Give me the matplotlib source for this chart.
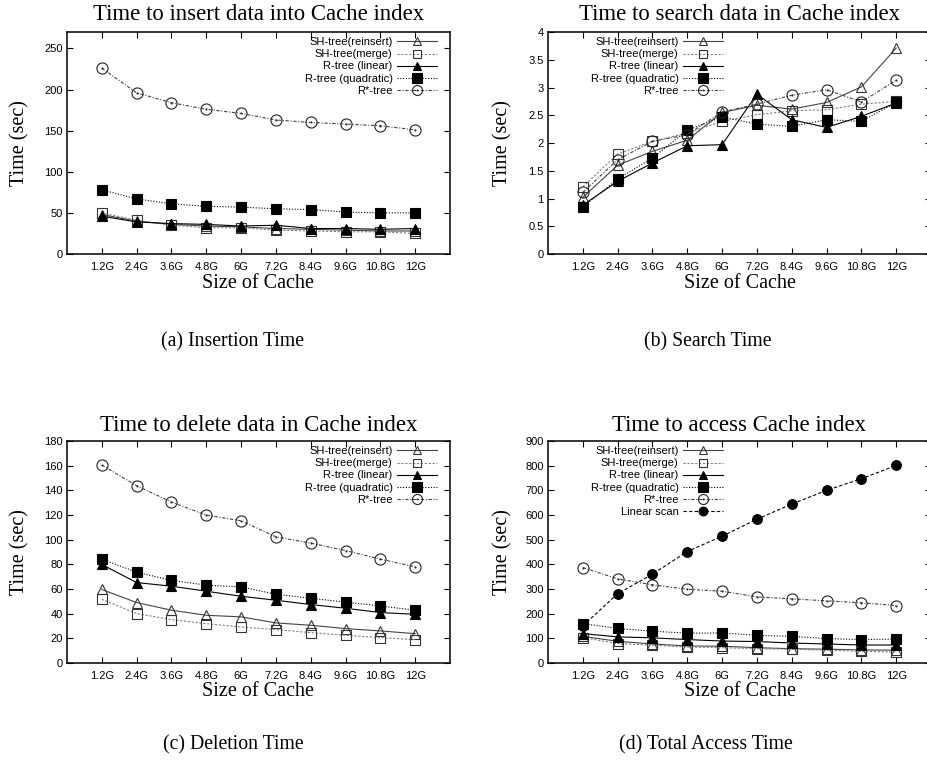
import numpy as np
import matplotlib.pyplot as plt
from matplotlib.path import Path
from matplotlib import ticker

# cache sizes on the x axis
sizes = ["1.2G", "2.4G", "3.6G", "4.8G", "6G", "7.2G", "8.4G", "9.6G", "10.8G", "12G"]

labels = ["SH-tree(reinsert)", "SH-tree(merge)", "R-tree (linear)",
          "R-tree (quadratic)", "R*-tree", "Linear scan"]

# (a) insertion time (sec)
ins_reinsert = [48, 40, 36, 34, 33, 31, 30, 29, 28, 28]
ins_merge = [50, 41, 35, 32, 32, 29, 28, 27, 27, 25]
ins_linear = [46, 39, 37, 36, 34, 35, 31, 31, 30, 31]
ins_quadratic = [78, 67, 61, 58, 57, 55, 54, 51, 50, 50]
ins_rstar = [226, 196, 184, 176, 171, 163, 160, 158, 156, 151]

# (b) search time (sec)
sea_reinsert = [1.02, 1.60, 1.85, 2.05, 2.55, 2.68, 2.61, 2.73, 3.01, 3.71]
sea_merge = [1.21, 1.80, 2.03, 2.18, 2.39, 2.51, 2.58, 2.60, 2.70, 2.75]
sea_linear = [0.88, 1.31, 1.64, 1.95, 1.97, 2.88, 2.42, 2.28, 2.48, 2.72]
sea_quadratic = [0.85, 1.35, 1.73, 2.23, 2.47, 2.34, 2.30, 2.42, 2.39, 2.73]
sea_rstar = [1.11, 1.70, 2.03, 2.15, 2.56, 2.70, 2.86, 2.96, 2.74, 3.13]

# (c) deletion time (sec)
del_reinsert = [59.6, 49.0, 42.8, 38.7, 37.4, 32.5, 30.6, 27.9, 26.0, 23.8]
del_merge = [51.7, 40.1, 35.2, 31.9, 29.2, 27.1, 24.6, 22.5, 20.6, 18.9]
del_linear = [79.9, 65.2, 62.3, 58.2, 54.1, 50.9, 47.4, 44.4, 40.9, 39.5]
del_quadratic = [84.2, 73.6, 67.1, 63.1, 61.7, 55.8, 52.5, 49.3, 46.3, 42.8]
del_rstar = [160.5, 143.7, 130.5, 119.9, 115.3, 102.3, 97.2, 91.2, 84.2, 78.0]

# (d) total access time (sec)
acc_reinsert = [108, 88, 77, 69, 68, 62, 58, 56, 53, 52]
acc_merge = [103, 79, 72, 65, 62, 58, 56, 52, 47, 45]
acc_linear = [119, 106, 102, 95, 89, 87, 81, 77, 73, 73]
acc_quadratic = [160, 140, 129, 121, 122, 112, 108, 99, 95, 97]
acc_rstar = [387, 341, 317, 299, 291, 268, 260, 252, 244, 233]
acc_scan = [150, 281, 360, 452, 514, 583, 644, 700, 747, 801]

W, H = 927, 763
fig = plt.figure(figsize=(W / 100, H / 100), dpi=100)

SERIF = "Liberation Serif"
SANS = "Liberation Sans"

# circle with a centre dot, like gnuplot's postscript points
dot_circle = Path.make_compound_path(Path.unit_circle(),
                                     Path.circle((0, 0), 0.08))

styles = [
    dict(color="#444444", ls="-", marker="^", mfc="none", mec="#333333", ms=6.5),
    dict(color="#808080", ls=(0, (2, 1.5)), marker="s", mfc="none", mec="#333333", ms=7),
    dict(color="black", ls="-", marker="^", mfc="black", mec="black", ms=6.5),
    dict(color="black", ls=(0, (1, 1.5)), marker="s", mfc="black", mec="black", ms=7.5),
    dict(color="#444444", ls=(0, (3, 1.5, 1, 1.5)), marker=dot_circle, mfc="none", mec="#222222", ms=8),
    dict(color="black", ls=(0, (3, 2)), marker="o", mfc="black", mec="black", ms=7),
]


def rect(l, r, t, b):
    return [l / W, 1 - b / H, (r - l) / W, (b - t) / H]


def panel(box, series, ymax, ystep, title, caption, title_y, xlab_y, ylab_x, cap_xy, leg_x):
    ax = fig.add_axes(rect(*box))
    x = np.arange(1, len(sizes) + 1)
    for i, vals in enumerate(series):
        ax.plot(x, vals, lw=0.8, mew=0.8, label=labels[i], **styles[i])
    ax.set_xlim(0, 11)
    ax.set_ylim(0, ymax)
    ax.set_xticks(x)
    ax.set_xticklabels(sizes)
    ax.set_yticks(np.arange(0, ymax + ystep / 2, ystep))
    ax.yaxis.set_major_formatter(ticker.FormatStrFormatter("%g"))
    ax.tick_params(direction="in", top=True, right=True, length=4, width=0.8,
                   labelsize=8)
    ax.tick_params(axis="x", pad=6)
    ax.tick_params(axis="y", pad=3)
    for lab in ax.get_xticklabels() + ax.get_yticklabels():
        lab.set_fontfamily(SANS)
    for s in ax.spines.values():
        s.set_linewidth(1.1)

    cx = (box[0] + box[1]) / 2
    fig.text(cx / W, 1 - title_y / H, title, family=SERIF, fontsize=16.4,
             ha="center", va="center")
    fig.text(cx / W, 1 - xlab_y / H, "Size of Cache", family=SERIF,
             fontsize=14.5, ha="center", va="center")
    fig.text(ylab_x / W, 1 - ((box[2] + box[3]) / 2) / H, "Time (sec)",
             family=SERIF, fontsize=14.5, ha="center", va="center", rotation=90)
    fig.text(cap_xy[0] / W, 1 - cap_xy[1] / H, caption, family=SERIF,
             fontsize=14.2, ha="center", va="center")

    ax.legend(loc="upper right", bbox_to_anchor=(leg_x, 0.978),
              frameon=False, markerfirst=False, borderpad=0,
              borderaxespad=0, labelspacing=0.2, handlelength=3.6,
              handleheight=0.5, handletextpad=0.4, markerscale=0.9,
              prop={"family": SANS, "size": 8})
    return ax


panel((67, 450, 32, 254),
      [ins_reinsert, ins_merge, ins_linear, ins_quadratic, ins_rstar],
      270, 50, "Time to insert data into Cache index", "(a) Insertion Time",
      15, 283, 20, (233, 342), 0.966)

panel((548, 931, 32, 254),
      [sea_reinsert, sea_merge, sea_linear, sea_quadratic, sea_rstar],
      4, 0.5, "Time to search data in Cache index", "(b) Search Time",
      15, 283, 503, (708, 342), 0.457)

panel((67, 450, 441, 663),
      [del_reinsert, del_merge, del_linear, del_quadratic, del_rstar],
      180, 20, "Time to delete data in Cache index", "(c) Deletion Time",
      425, 692, 20, (233, 745), 0.966)

panel((548, 931, 441, 663),
      [acc_reinsert, acc_merge, acc_linear, acc_quadratic, acc_rstar, acc_scan],
      900, 100, "Time to access Cache index", "(d) Total Access Time",
      425, 692, 503, (706, 745), 0.457)

fig.savefig("out.png", dpi=100)
